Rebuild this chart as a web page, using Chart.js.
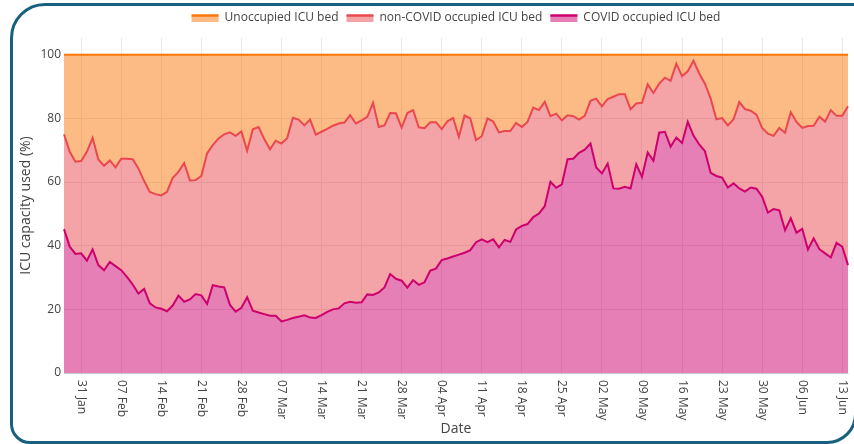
<!DOCTYPE html>
<html>
<head>
<meta charset="utf-8">
<script src="https://cdn.jsdelivr.net/npm/chart.js@4/dist/chart.umd.min.js"></script>
<style>
  html, body { margin: 0; padding: 0; background: #fff; overflow: hidden; }
  #wrap { position: relative; width: 854px; height: 444px; }
  #frame {
    position: absolute; left: 10px; top: 3px; width: 847px; height: 441px;
    box-sizing: border-box; border: 3px solid #17607f;
    border-radius: 35px 0 30px 20px; pointer-events: none;
  }
  canvas { position: absolute; left: 0; top: 0; }
</style>
</head>
<body>
<div id="wrap">
  <canvas id="c" width="854" height="444"></canvas>
  <div id="frame"></div>
</div>
<script>
// ---- Data, daily from 28 Jan 2021 ----
const startDate = [2021, 0, 28];
const monthNames = ['Jan','Feb','Mar','Apr','May','Jun','Jul','Aug','Sep','Oct','Nov','Dec'];

// Cumulative share of ICU capacity: COVID occupied (bottom band)
const covidPct = [
  45.2,39.7,37.4,37.6,35.3,38.8,33.9,32.3,34.9,33.6,
  32.3,30.2,27.8,25.0,26.4,21.9,20.6,20.2,19.4,21.2,
  24.3,22.4,23.1,24.8,24.4,21.7,27.6,27.2,26.9,21.4,
  19.3,20.5,23.8,19.6,19.0,18.5,18.0,18.0,16.2,16.7,
  17.3,17.7,18.1,17.4,17.3,18.2,19.2,20.0,20.3,21.9,
  22.4,22.1,22.2,24.7,24.5,25.3,26.9,31.1,29.6,29.0,
  26.8,29.2,27.7,28.5,32.2,32.8,35.5,36.0,36.6,37.2,
  37.8,38.6,41.1,42.0,41.1,42.0,39.5,41.8,41.2,45.1,
  46.2,46.8,49.0,50.1,52.4,60.1,58.2,59.3,67.2,67.3,
  69.2,70.2,72.1,64.6,62.7,65.8,58.0,57.9,58.5,58.0,
  65.6,61.6,69.3,66.7,75.5,75.8,71.1,74.0,72.3,78.9,
  74.6,71.8,69.7,62.9,61.9,61.4,58.3,59.6,58.0,57.0,
  58.3,57.9,55.4,50.4,51.5,51.1,44.9,48.6,44.1,45.3,
  38.8,42.3,38.9,37.6,36.3,40.9,39.7,33.9
];

// Cumulative share: COVID + non-COVID occupied (top of the non-COVID band)
const occupiedPct = [
  75.0,69.5,66.4,66.6,69.5,73.9,67.1,65.1,66.8,64.6,
  67.3,67.3,67.2,64.3,60.3,56.9,56.2,55.8,56.9,61.3,
  63.2,66.0,60.5,60.6,61.9,69.0,71.6,73.7,75.0,75.6,
  74.5,75.9,69.8,76.6,77.3,73.5,70.3,73.0,72.1,73.8,
  80.2,79.6,77.8,79.6,74.9,75.8,76.7,77.7,78.4,78.7,
  81.0,78.4,79.4,80.5,84.9,77.3,77.8,81.7,81.6,77.1,
  81.7,82.6,77.2,76.9,78.8,78.8,76.6,79.1,80.1,74.2,
  80.9,80.0,73.2,74.4,80.0,79.0,75.6,76.0,76.0,78.6,
  77.3,78.9,83.4,82.6,85.2,80.7,81.5,79.4,81.0,80.7,
  79.6,80.8,85.5,86.2,83.8,86.1,86.8,87.6,87.6,82.9,
  84.7,84.9,90.7,88.0,90.9,92.8,91.8,97.2,93.3,94.8,
  98.1,94.1,90.9,86.2,79.7,80.1,77.8,79.7,85.1,82.9,
  82.4,81.2,77.0,75.2,74.5,77.0,75.5,81.9,78.9,77.0,
  77.6,77.7,80.5,79.0,82.6,80.8,80.8,83.8
];

// Total ICU capacity (top of the unoccupied band)
const capacityPct = 100;

const seriesNames = ['COVID occupied ICU bed', 'non-COVID occupied ICU bed', 'Unoccupied ICU bed'];
const xTickLabels = ['31 Jan','07 Feb','14 Feb','21 Feb','28 Feb','07 Mar','14 Mar','21 Mar','28 Mar',
  '04 Apr','11 Apr','18 Apr','25 Apr','02 May','09 May','16 May','23 May','30 May','06 Jun','13 Jun'];
const yTickValues = [0, 20, 40, 60, 80, 100];

// ---- category labels (dates) ----
const dates = covidPct.map((_, i) => {
  const d = new Date(Date.UTC(startDate[0], startDate[1], startDate[2] + i));
  return String(d.getUTCDate()).padStart(2, '0') + ' ' + monthNames[d.getUTCMonth()];
});
const tickIdx = xTickLabels.map(l => dates.indexOf(l));

const FONT = '"Open Sans", "DejaVu Sans", sans-serif';
const TXT = '#444';

const colors = {
  covid:   { line: 'rgb(206,0,110)',  fill: 'rgba(206,0,110,0.5)' },
  nonCovid:{ line: 'rgb(234,72,78)',  fill: 'rgba(234,72,78,0.5)' },
  unocc:   { line: 'rgb(250,118,10)', fill: 'rgba(250,118,10,0.5)' }
};

const legendPlugin = {
  id: 'topLegend',
  afterDraw(chart) {
    const ctx = chart.ctx;
    const order = [2, 1, 0];
    ctx.save();
    ctx.font = '12px ' + FONT;
    const sw = 27, gapT = 6, gapI = 8;
    const widths = order.map(i => sw + gapT + ctx.measureText(seriesNames[i]).width);
    const total = widths.reduce((a, b) => a + b, 0) + gapI * (order.length - 1);
    const ca = chart.chartArea;
    let x = (ca.left + ca.right) / 2 - total / 2;
    const y = 18;
    order.forEach((i, k) => {
      const ds = chart.data.datasets[i];
      ctx.fillStyle = ds.backgroundColor;
      ctx.fillRect(x, y - 3, sw, 7);
      ctx.strokeStyle = ds.borderColor;
      ctx.lineWidth = 2.5;
      ctx.beginPath(); ctx.moveTo(x, y - 2.5); ctx.lineTo(x + sw, y - 2.5); ctx.stroke();
      ctx.fillStyle = TXT;
      ctx.textAlign = 'left';
      ctx.textBaseline = 'middle';
      ctx.fillText(seriesNames[i], x + sw + gapT, y);
      x += widths[k] + gapI;
    });
    ctx.restore();
  }
};

const xLabelPlugin = {
  id: 'xLabels',
  afterDraw(chart) {
    const ctx = chart.ctx;
    const xs = chart.scales.x;
    ctx.save();
    ctx.font = '12px ' + FONT;
    ctx.fillStyle = TXT;
    ctx.textAlign = 'left';
    ctx.textBaseline = 'middle';
    xTickLabels.forEach((lbl, k) => {
      const px = xs.getPixelForValue(tickIdx[k]);
      ctx.save();
      ctx.translate(px, xs.top + 7);
      ctx.rotate(Math.PI / 2);
      ctx.fillText(lbl, 0, 0);
      ctx.restore();
    });
    ctx.restore();
  }
};

function draw() {
  new Chart(document.getElementById('c'), {
    type: 'line',
    data: {
      labels: dates,
      datasets: [
        { label: seriesNames[0], data: covidPct, borderColor: colors.covid.line,
          backgroundColor: colors.covid.fill, fill: 'origin' },
        { label: seriesNames[1], data: occupiedPct, borderColor: colors.nonCovid.line,
          backgroundColor: colors.nonCovid.fill, fill: '-1' },
        { label: seriesNames[2], data: dates.map(() => capacityPct), borderColor: colors.unocc.line,
          backgroundColor: colors.unocc.fill, fill: '-1' }
      ]
    },
    options: {
      responsive: false,
      animation: false,
      devicePixelRatio: 1,
      layout: { padding: { left: 0, right: 6, top: 38, bottom: 0 } },
      elements: {
        point: { radius: 0, hoverRadius: 0 },
        line: { borderWidth: 2, tension: 0 }
      },
      plugins: { legend: { display: false }, tooltip: { enabled: false } },
      scales: {
        x: {
          type: 'category',
          offset: false,
          afterBuildTicks: s => { s.ticks = tickIdx.map(v => ({ value: v })); },
          afterFit: s => { s.height = 71; },
          ticks: { display: false, autoSkip: false },
          grid: { color: '#e6e6e6', drawTicks: false },
          border: { display: true, color: 'rgba(0,0,0,0.12)' },
          title: { display: true, text: 'Date', color: TXT,
                   font: { family: FONT, size: 14 }, padding: { top: 0, bottom: 6.6 } }
        },
        y: {
          min: 0, max: 105.26,
          afterBuildTicks: s => { s.ticks = yTickValues.map(v => ({ value: v })); },
          afterFit: s => { s.width = 64; },
          ticks: { color: TXT, font: { family: FONT, size: 12 }, padding: 3 },
          grid: { color: '#e6e6e6', drawTicks: false },
          border: { display: false },
          title: { display: true, text: 'ICU capacity used (%)', color: TXT,
                   font: { family: FONT, size: 14 }, padding: { top: 17.5, bottom: 0 } }
        }
      }
    },
    plugins: [legendPlugin, xLabelPlugin]
  });
}

if (document.fonts && document.fonts.load) {
  Promise.all([document.fonts.load('12px "Open Sans"'), document.fonts.load('14px "Open Sans"')])
    .then(draw, draw);
} else { draw(); }
</script>
</body>
</html>
